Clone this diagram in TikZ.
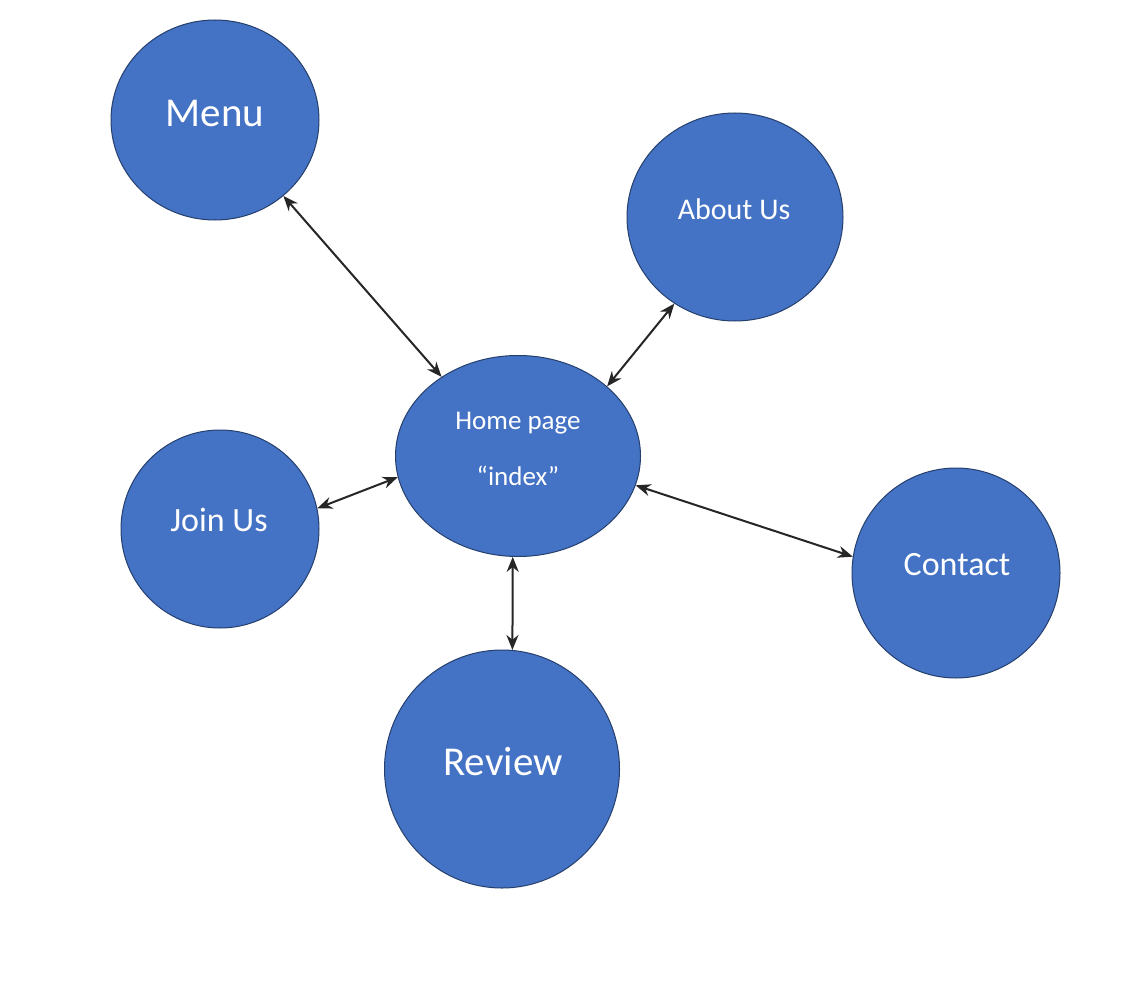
\documentclass[tikz,border=0pt]{standalone}
\usepackage{fontspec}
\setmainfont{Carlito}
\usetikzlibrary{shapes.geometric,arrows.meta}
\definecolor{bubblefill}{HTML}{4472C4}
\definecolor{bubbleedge}{HTML}{26406E}
\definecolor{arrowgray}{HTML}{262626}
\begin{document}
\begin{tikzpicture}[x=1pt,y=1pt,
  bubble/.style={ellipse,draw=bubbleedge,line width=1pt,fill=bubblefill,inner sep=0pt},
  txt/.style={text=white,inner sep=0pt,anchor=center},
  link/.style={draw=arrowgray,line width=2pt,{Stealth[length=15pt,width=12pt]}-{Stealth[length=15pt,width=12pt]}}
]
\useasboundingbox (0,0) rectangle (1124,-995);
\fill[white] (0,0) rectangle (1124,-995);

\node[bubble,minimum width=208pt,minimum height=200pt] (menu) at (215,-120) {};
\node[bubble,minimum width=216pt,minimum height=208pt] (about) at (735,-217) {};
\node[bubble,minimum width=245pt,minimum height=201pt] (home) at (518,-456) {};
\node[bubble,minimum width=198pt,minimum height=198pt] (join) at (220,-529) {};
\node[bubble,minimum width=208pt,minimum height=210pt] (contact) at (956,-573) {};
\node[bubble,minimum width=235pt,minimum height=238pt] (review) at (502,-769) {};

\node[txt,font=\fontsize{41}{48}\selectfont] (menut) at (215,-113) {Menu};
\node[txt,font=\fontsize{30}{36}\selectfont] (aboutt) at (734,-209) {About Us};
\node[txt,font=\fontsize{27}{32}\selectfont] (homet1) at (518,-423) {Home page};
\node[txt,font=\fontsize{27}{32}\selectfont] (homet2) at (518,-476) {“index”};
\node[txt,font=\fontsize{34}{40}\selectfont] (joint) at (219,-520) {Join Us};
\node[txt,font=\fontsize{34}{40}\selectfont] (contactt) at (957,-565) {Contact};
\node[txt,font=\fontsize{41}{48}\selectfont] (reviewt) at (503,-762) {Review};

\draw[link] (menu.-48.8) -- (home.134);
\draw[link] (about.235.4) -- (home.38.5);
\draw[link] (join.12.4) -- (home.190.6);
\draw[link] (home.-14.8) -- (contact.171);
\draw[link] (home.-93.3) -- (review.85);
\end{tikzpicture}
\end{document}
